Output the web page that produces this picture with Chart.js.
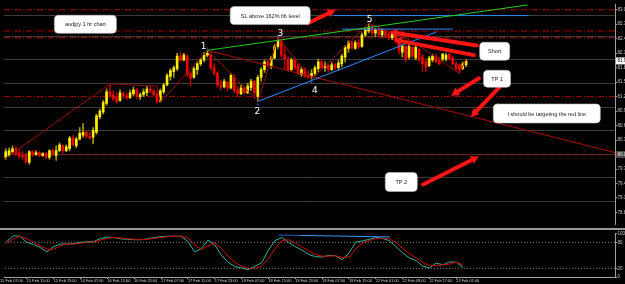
<!DOCTYPE html>
<html>
<head>
<meta charset="utf-8">
<script src="https://cdn.jsdelivr.net/npm/chart.js@4.4.1/dist/chart.umd.min.js"></script>
<style>
  html, body { margin: 0; padding: 0; background: #000; width: 625px; height: 284px; overflow: hidden; }
  #main { position: absolute; left: 0; top: 0; width: 625px; height: 228px; }
  #sep { position: absolute; left: 0; top: 228px; width: 625px; height: 2px; background: #9a9a9a; }
  #sub { position: absolute; left: 0; top: 230px; width: 625px; height: 54px; }
</style>
</head>
<body>
<div id="main"><canvas id="priceChart"></canvas></div>
<div id="sep"></div>
<div id="sub"><canvas id="stochChart"></canvas></div>
<script>
// ---- axis ranges (bar index / price) ----
const X_MIN = 1.48
const X_MAX = 183.3
const P_MIN = 78.56
const P_MAX = 83.12
const FIRST_BAR = 2

// ---- AUDJPY H1 candles ----
const opens = [
  79.94, 79.98, 80.06, 80.12, 80.04, 79.98, 80.00, 79.84, 80.06, 80.00,
  80.04, 79.98, 80.02, 79.94, 80.08, 79.98, 80.08, 80.18, 80.08, 80.12,
  80.34, 80.18, 80.32, 80.40, 80.46, 80.38, 80.36, 80.46, 80.78, 80.88,
  81.06, 81.30, 81.24, 81.18, 81.12, 81.26, 81.22, 81.18, 81.26, 81.34,
  81.20, 81.24, 81.28, 81.36, 81.32, 81.24, 81.10, 81.30, 81.44, 81.62,
  81.72, 81.78, 82.04, 81.96, 82.04, 81.68, 81.60, 81.76, 81.88, 81.96,
  82.06, 82.08, 81.80, 81.68, 81.44, 81.40, 81.50, 81.38, 81.60, 81.34,
  81.26, 81.38, 81.28, 81.38, 81.52, 81.20, 81.60, 81.76, 81.92, 81.84,
  82.00, 82.24, 82.34, 82.06, 81.98, 81.76, 81.96, 81.84, 81.66, 81.76,
  81.64, 81.62, 81.68, 81.78, 81.92, 81.80, 81.84, 81.76, 81.86, 81.80,
  81.88, 82.02, 82.20, 82.32, 82.20, 82.32, 82.24, 82.48, 82.56, 82.64,
  82.52, 82.58, 82.48, 82.56, 82.50, 82.42, 82.48, 82.36, 82.12, 82.24,
  82.02, 82.22, 82.00, 82.18, 82.02, 81.92, 81.84, 81.96, 82.04, 81.96,
  81.98, 81.98, 82.08, 82.00, 81.88, 81.86, 81.78, 81.86
]
const highs = [
  80.12, 80.14, 80.18, 80.16, 80.10, 80.06, 80.02, 80.08, 80.08, 80.08,
  80.06, 80.04, 80.04, 80.10, 80.12, 80.18, 80.24, 80.20, 80.20, 80.38,
  80.40, 80.36, 80.56, 80.64, 80.50, 80.46, 80.56, 80.84, 80.94, 81.12,
  81.36, 81.46, 81.32, 81.28, 81.34, 81.30, 81.28, 81.34, 81.40, 81.38,
  81.28, 81.36, 81.42, 81.40, 81.36, 81.32, 81.36, 81.48, 81.68, 81.78,
  81.84, 82.10, 82.12, 82.10, 82.08, 81.72, 81.82, 81.92, 82.00, 82.12,
  82.16, 82.12, 81.88, 81.72, 81.54, 81.56, 81.52, 81.68, 81.66, 81.42,
  81.44, 81.42, 81.48, 81.56, 81.54, 81.64, 81.80, 81.96, 81.98, 82.04,
  82.28, 82.42, 82.38, 82.24, 82.02, 82.00, 82.00, 81.88, 81.82, 81.80,
  81.72, 81.76, 81.84, 81.98, 81.96, 81.92, 81.88, 81.92, 81.90, 81.96,
  82.08, 82.26, 82.36, 82.36, 82.36, 82.38, 82.52, 82.62, 82.72, 82.68,
  82.62, 82.62, 82.60, 82.58, 82.54, 82.54, 82.52, 82.40, 82.28, 82.26,
  82.28, 82.24, 82.26, 82.20, 82.08, 81.98, 82.04, 82.08, 82.08, 82.02,
  82.10, 82.10, 82.10, 82.04, 81.92, 81.88, 81.92, 81.98
]
const lows = [
  79.90, 79.96, 80.02, 79.98, 79.92, 79.90, 79.82, 79.80, 79.96, 79.98,
  79.96, 79.96, 79.92, 79.90, 79.98, 79.88, 80.06, 80.04, 80.06, 80.08,
  80.18, 80.14, 80.30, 80.36, 80.34, 80.32, 80.22, 80.42, 80.74, 80.84,
  81.02, 81.18, 81.12, 81.06, 81.10, 81.16, 81.14, 81.16, 81.22, 81.16,
  81.14, 81.20, 81.22, 81.28, 81.22, 81.06, 81.08, 81.26, 81.42, 81.54,
  81.60, 81.74, 81.92, 81.94, 81.62, 81.42, 81.58, 81.66, 81.84, 81.92,
  82.02, 81.76, 81.64, 81.40, 81.34, 81.38, 81.32, 81.36, 81.28, 81.22,
  81.24, 81.26, 81.26, 81.32, 81.18, 81.10, 81.52, 81.70, 81.82, 81.78,
  81.98, 82.20, 82.02, 81.78, 81.72, 81.74, 81.76, 81.66, 81.62, 81.60,
  81.58, 81.56, 81.64, 81.72, 81.76, 81.72, 81.70, 81.74, 81.76, 81.76,
  81.82, 81.92, 82.12, 82.18, 82.18, 82.20, 82.22, 82.44, 82.52, 82.48,
  82.44, 82.44, 82.44, 82.42, 82.38, 82.38, 82.32, 82.08, 82.02, 81.92,
  81.98, 82.00, 81.96, 81.92, 81.72, 81.72, 81.82, 81.92, 81.90, 81.86,
  81.94, 81.94, 81.96, 81.86, 81.74, 81.68, 81.76, 81.82
]
const closes = [
  80.06, 80.08, 80.12, 80.02, 79.98, 79.96, 79.84, 80.06, 80.00, 80.04,
  79.98, 80.02, 79.94, 80.08, 80.00, 80.08, 80.20, 80.08, 80.16, 80.34,
  80.20, 80.32, 80.44, 80.46, 80.38, 80.34, 80.50, 80.80, 80.90, 81.08,
  81.30, 81.22, 81.16, 81.10, 81.28, 81.22, 81.18, 81.28, 81.34, 81.20,
  81.24, 81.30, 81.36, 81.32, 81.24, 81.10, 81.32, 81.44, 81.64, 81.74,
  81.80, 82.04, 81.96, 82.06, 81.66, 81.58, 81.78, 81.88, 81.96, 82.06,
  82.10, 81.80, 81.68, 81.44, 81.40, 81.52, 81.38, 81.64, 81.32, 81.26,
  81.38, 81.28, 81.42, 81.52, 81.28, 81.60, 81.76, 81.92, 81.86, 82.00,
  82.24, 82.36, 82.06, 81.98, 81.76, 81.96, 81.80, 81.68, 81.76, 81.62,
  81.60, 81.68, 81.80, 81.92, 81.80, 81.84, 81.76, 81.86, 81.80, 81.90,
  82.04, 82.22, 82.32, 82.22, 82.32, 82.24, 82.48, 82.58, 82.64, 82.52,
  82.58, 82.48, 82.56, 82.46, 82.42, 82.50, 82.36, 82.16, 82.24, 81.98,
  82.24, 82.04, 82.22, 81.98, 81.88, 81.82, 82.00, 82.04, 81.92, 81.88,
  82.08, 82.06, 81.98, 81.88, 81.78, 81.76, 81.88, 81.94
]

// ---- stochastic (one reading every 2 bars) ----
const stochK = [
  82, 95, 94, 80, 75, 68, 58, 70, 76, 76, 77, 80, 81, 82, 89, 92, 91, 88, 87, 86,
  86, 88, 91, 93, 94, 94, 94, 82, 58, 66, 85, 74, 50, 34, 24, 21, 17, 25, 33, 62,
  84, 91, 80, 70, 62, 52, 47, 46, 50, 49, 40, 55, 80, 83, 87, 91, 89, 84, 70, 56,
  44, 38, 25, 21, 32, 28, 35, 34, 22
]
const stochD = [
  78, 88, 94, 88, 80, 72, 64, 64, 72, 76, 76, 78, 80, 81, 85, 89, 91, 90, 88, 87,
  86, 87, 89, 91, 93, 94, 94, 90, 74, 64, 72, 78, 66, 48, 34, 25, 20, 20, 26, 42,
  66, 84, 86, 78, 69, 60, 52, 48, 48, 49, 45, 46, 64, 78, 84, 88, 90, 88, 80, 66,
  54, 44, 34, 26, 26, 28, 30, 34, 28
]
const stochLevels = [80, 20]
const stochTicks = [100, 80, 20, 0]

// ---- axes ----
const priceTicks = [83.0, 82.7, 82.4, 82.1, 81.8, 81.5, 81.2, 80.9, 80.6, 80.3, 80.0, 79.7, 79.4, 79.1, 78.8]
const gridLevels = [82.88, 82.45, 81.96, 81.47, 80.98, 80.50, 80.01, 79.52, 79.03]
const timeLabels = [
  '15 Feb 07:00', '15 Feb 15:00', '15 Feb 23:00', '16 Feb 07:00', '16 Feb 15:00', '16 Feb 23:00',
  '17 Feb 07:00', '17 Feb 15:00', '17 Feb 23:00', '18 Feb 07:00', '18 Feb 15:00', '18 Feb 23:00',
  '19 Feb 07:00', '19 Feb 15:00', '22 Feb 01:00', '22 Feb 09:00', '22 Feb 17:00', '23 Feb 01:00'
]

// ---- drawn objects ----
const fibLevels = [83.00, 82.56, 82.42, 81.20]
const tp2Level = 80.00
const zigzagX = [1.5, 33, 35, 40, 47, 48, 62, 69, 77, 83, 93, 110, 122.7, 137, 139]
const zigzagY = [79.90, 81.46, 81.46, 81.44, 81.42, 81.08, 82.16, 81.68, 81.10, 82.42, 81.56, 82.72, 82.36, 81.68, 81.98]
const redLine = [[62, 82.16], [183.3, 80.04]]
const greenLine = [[62, 82.16], [157.3, 83.10]]
const blueLine = [[77, 81.10], [130.1, 82.54]]
const blueTop = [[99.6, 82.88], [157.6, 82.88]]
const blueMid = [[102, 82.60], [135.1, 82.60]]
const stochBlueDark = [[83.1, 96.7], [89.3, 95.9]]
const stochBlueLight = [[89.3, 95.9], [116.2, 92.4]]

const waveLabels = [['1', 60.9, 82.24], ['2', 76.9, 80.88], ['3', 83.7, 82.50], ['4', 94.0, 81.32], ['5', 110.3, 82.80]]
const pivotMarks = [[62, 82.20], [77, 81.04], [83, 82.46], [93, 81.50], [110, 82.76]]

const notes = [
  { text: 'audjpy 1 hr chart', at: [25.7, 82.70], w: 62, h: 18 },
  { text: 'SL above 162% fib level', at: [80.7, 82.88], w: 80, h: 18 },
  { text: 'Short', at: [147.5, 82.14], w: 30, h: 18 },
  { text: 'TP 1', at: [148.2, 81.57], w: 27, h: 17 },
  { text: 'I should be targeting the red line', at: [163.0, 80.85], w: 107, h: 19 },
  { text: 'TP 2', at: [119.7, 79.43], w: 32, h: 19 }
]
const arrows = [
  { from: [91.9, 82.72], to: [100.2, 83.00] },
  { from: [142.2, 82.26], to: [116.2, 82.54] },
  { from: [141.3, 82.06], to: [117.4, 82.38] },
  { from: [142.8, 81.58], to: [134.5, 81.22] },
  { from: [149.0, 81.40], to: [140.4, 80.78] },
  { from: [126.2, 79.38], to: [142.8, 79.96] }
]

const bars = opens.map((_, k) => FIRST_BAR + k)
const isUp = closes.map((c, k) => c >= opens[k])

const hLine = (v, color, dash, order) => ({
  type: 'line', data: [{ x: X_MIN, y: v }, { x: X_MAX, y: v }],
  borderColor: color, borderWidth: 1, borderDash: dash, pointRadius: 0, order
})
const segment = (pts, color, order) => ({
  type: 'line', data: pts.map(p => ({ x: p[0], y: p[1] })),
  borderColor: color, borderWidth: 1, pointRadius: 0, order
})

// text boxes, arrows and wave numbers placed through the scales
const notesPlugin = {
  id: 'notes',
  afterDatasetsDraw(chart) {
    const { ctx, scales: { x, y } } = chart
    ctx.save()
    ctx.font = '9px "DejaVu Sans"'
    ctx.fillStyle = '#ffffff'
    ctx.textAlign = 'center'
    ctx.textBaseline = 'middle'
    waveLabels.forEach(([t, i, p]) => ctx.fillText(t, x.getPixelForValue(i), y.getPixelForValue(p)))

    arrows.forEach(a => {
      const x1 = x.getPixelForValue(a.from[0]), y1 = y.getPixelForValue(a.from[1])
      const x2 = x.getPixelForValue(a.to[0]), y2 = y.getPixelForValue(a.to[1])
      const ang = Math.atan2(y2 - y1, x2 - x1)
      const head = 9
      ctx.strokeStyle = ctx.fillStyle = '#ff1414'
      ctx.lineWidth = 4
      ctx.lineCap = 'round'
      ctx.beginPath()
      ctx.moveTo(x1, y1)
      ctx.lineTo(x2 - Math.cos(ang) * head * 0.7, y2 - Math.sin(ang) * head * 0.7)
      ctx.stroke()
      ctx.beginPath()
      ctx.moveTo(x2, y2)
      ctx.lineTo(x2 - head * Math.cos(ang - 0.5), y2 - head * Math.sin(ang - 0.5))
      ctx.lineTo(x2 - head * Math.cos(ang + 0.5), y2 - head * Math.sin(ang + 0.5))
      ctx.closePath()
      ctx.fill()
    })

    ctx.font = '5.5px "Liberation Sans"'
    notes.forEach(n => {
      const cx = x.getPixelForValue(n.at[0]), cy = y.getPixelForValue(n.at[1])
      ctx.fillStyle = '#ffffff'
      ctx.strokeStyle = '#bdbdbd'
      ctx.lineWidth = 0.6
      ctx.beginPath()
      ctx.roundRect(cx - n.w / 2, cy - n.h / 2, n.w, n.h, 4)
      ctx.fill()
      ctx.stroke()
      ctx.fillStyle = '#222222'
      ctx.fillText(n.text, cx, cy + 0.5)
    })
    ctx.restore()
  },
  afterDraw(chart) {
    const { ctx, chartArea, scales: { y } } = chart
    const last = closes[closes.length - 1]
    const tags = [[last, '#ffffff', '#000000'], [tp2Level, '#4a4a4a', '#e0e0e0']]
    ctx.save()
    ctx.font = '4.5px "Liberation Sans"'
    ctx.textAlign = 'left'
    ctx.textBaseline = 'middle'
    tags.forEach(([v, bg, fg]) => {
      const py = y.getPixelForValue(v)
      ctx.fillStyle = bg
      ctx.fillRect(chartArea.right + 1, py - 3.5, 12, 7)
      ctx.fillStyle = fg
      ctx.fillText(v.toFixed(3), chartArea.right + 2.5, py)
    })
    ctx.restore()
  }
}

new Chart(document.getElementById('priceChart'), {
  type: 'bar',
  data: {
    datasets: [
      ...fibLevels.map(v => hLine(v, '#a80000', [6, 2, 1, 2], 9)),
      hLine(tp2Level, '#960000', [3, 2, 1, 2], 9),
      {
        data: bars.map((b, k) => ({ x: b, y: [lows[k], highs[k]] })),
        backgroundColor: isUp.map(u => u ? '#a89a00' : '#b00000'),
        barThickness: 1, grouped: false, borderWidth: 0, order: 4
      },
      {
        data: bars.map((b, k) => ({ x: b, y: [opens[k], closes[k]] })),
        backgroundColor: isUp.map(u => u ? '#ffee00' : '#f00000'),
        barThickness: 2, grouped: false, borderWidth: 0, order: 3
      },
      {
        type: 'line', data: zigzagX.map((zx, k) => ({ x: zx, y: zigzagY[k] })),
        borderColor: '#960c0c', borderWidth: 1, pointRadius: 0, order: 2
      },
      segment(redLine, '#a80c0c', 2),
      segment(greenLine, '#22cc22', 1),
      segment(blueLine, '#2a8cff', 1),
      segment(blueTop, '#2a8cff', 1),
      segment(blueMid, '#2a8cff', 1),
      {
        type: 'scatter', data: pivotMarks.map(p => ({ x: p[0], y: p[1] })),
        pointStyle: 'rect', pointRadius: 1.2, backgroundColor: '#2850d0', borderWidth: 0, order: 1
      }
    ]
  },
  options: {
    animation: false,
    responsive: true,
    maintainAspectRatio: false,
    layout: { padding: 0 },
    plugins: { legend: { display: false }, tooltip: { enabled: false } },
    scales: {
      x: { type: 'linear', min: X_MIN, max: X_MAX, offset: false, display: false },
      y: {
        position: 'right', min: P_MIN, max: P_MAX,
        afterBuildTicks: s => { s.ticks = priceTicks.map(v => ({ value: v })) },
        afterFit: s => { s.width = 10 },
        grid: { drawOnChartArea: false, color: '#a0a0a0', tickLength: 2 },
        border: { color: '#a0a0a0' },
        ticks: { color: '#c8c8c8', padding: 0.5, font: { size: 4.5, family: 'Liberation Sans' }, callback: v => v.toFixed(3) }
      },
      yg: {
        position: 'left', min: P_MIN, max: P_MAX,
        afterBuildTicks: s => { s.ticks = gridLevels.map(v => ({ value: v })) },
        afterFit: s => { s.width = 0 },
        grid: { color: '#3c3c3c', drawTicks: false },
        border: { display: false },
        ticks: { display: false }
      }
    }
  },
  plugins: [notesPlugin]
})

// ---- stochastic sub-window ----
const stochX = stochK.map((_, k) => FIRST_BAR + 2 * k)
new Chart(document.getElementById('stochChart'), {
  type: 'line',
  data: {
    datasets: [
      ...stochLevels.map(v => ({
        data: [{ x: X_MIN, y: v }, { x: X_MAX, y: v }],
        borderColor: '#8a8a8a', borderWidth: 1, borderDash: [1, 2], pointRadius: 0
      })),
      segment(stochBlueDark, '#1462b8', 0),
      segment(stochBlueLight, '#3399ff', 0),
      { data: stochX.map((sx, k) => ({ x: sx, y: stochD[k] })), borderColor: '#d00000', borderWidth: 1, pointRadius: 0 },
      { data: stochX.map((sx, k) => ({ x: sx, y: stochK[k] })), borderColor: '#2fb59a', borderWidth: 1, pointRadius: 0 }
    ]
  },
  options: {
    animation: false,
    responsive: true,
    maintainAspectRatio: false,
    layout: { padding: 0 },
    plugins: { legend: { display: false }, tooltip: { enabled: false } },
    scales: {
      x: {
        type: 'linear', min: X_MIN, max: X_MAX,
        afterBuildTicks: s => { s.ticks = timeLabels.map((_, k) => ({ value: 8 * k })) },
        afterFit: s => { s.height = 7 },
        grid: { drawOnChartArea: false, color: '#a0a0a0', tickLength: 2 },
        border: { color: '#a0a0a0' },
        ticks: {
          align: 'start', autoSkip: false, maxRotation: 0, minRotation: 0, padding: 0,
          color: '#d0d0d0', font: { size: 3.9, family: 'Liberation Sans' },
          callback: (v, k) => timeLabels[k]
        }
      },
      y: {
        position: 'right', min: 0, max: 101,
        afterBuildTicks: s => { s.ticks = stochTicks.map(v => ({ value: v })) },
        afterFit: s => { s.width = 10 },
        grid: { drawOnChartArea: false, color: '#a0a0a0', tickLength: 2 },
        border: { color: '#a0a0a0' },
        ticks: { color: '#c8c8c8', padding: 0.5, font: { size: 4.5, family: 'Liberation Sans' } }
      }
    }
  }
})
</script>
</body>
</html>
